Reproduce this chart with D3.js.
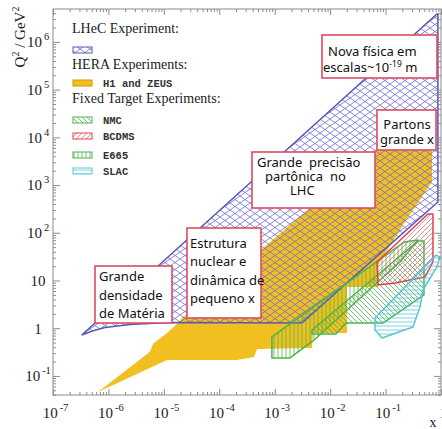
<!DOCTYPE html>
<html><head><meta charset="utf-8">
<script src="https://cdn.jsdelivr.net/npm/d3@7"></script>
<style>
html,body{margin:0;padding:0;background:#fff;}
svg{display:block;}
.note{font-family:"Noto Sans",sans-serif;font-size:13px;fill:#111;white-space:pre;}
.ser{font-family:"Liberation Serif","Times New Roman",serif;fill:#222;}
.mono{font-family:"Liberation Mono",monospace;font-weight:bold;font-size:10.5px;fill:#333;}
</style></head><body>
<script>
// ---------- data (x, Q^2) ----------
const xTickValues = [1e-7, 1e-6, 1e-5, 1e-4, 1e-3, 1e-2, 1e-1, 1];
const xTickBase   = ["10","10","10","10","10","10","10","1"];
const xTickExp    = ["-7","-6","-5","-4","-3","-2","-1",""];
const yTickValues = [1e-1, 1, 10, 1e2, 1e3, 1e4, 1e5, 1e6];
const yTickBase   = ["10","1","10","10","10","10","10","10"];
const yTickExp    = ["-1","","","2","3","4","5","6"];

const lhec = [[3.3e-7,0.72],[0.845,3.85e6],[0.88,3.85e6],[0.88,442],[3.1e-3,1.29],
              [1.29e-5,1.32],[2.45e-6,1.2],[8.7e-7,1.03],[5.1e-7,0.87]];
const h1zeus = [[6.5e-7,0.046],[5.6e-6,0.32],[6.4e-6,0.47],[1.14e-5,0.79],[1.8e-5,1.28],
                [2.12e-5,1.64],[0.070,5430],[0.687,5430],[0.687,1160],[0.224,168],
                [0.073,21.1],[0.073,7.3],[0.0201,7.3],[0.0201,0.79],[4.9e-3,0.79],
                [4.7e-3,0.385],[4.8e-4,0.367],[4.2e-4,0.249],[2.08e-4,0.216],[1.14e-5,0.216]];
const e665 = [[8.9e-4,0.655],[8.9e-4,0.238],[1.88e-3,0.238],[4.9e-3,0.54],[0.182,24.4],
              [0.385,70.6],[0.215,64]];
const nmc = [[4.7e-3,0.916],[4.7e-3,0.757],[0.0127,0.757],[0.0193,1.28],[0.0897,1.28],
             [0.493,4.97],[0.493,67.3],[0.385,67.3]];
const bcdms = [[0.070,24.4],[0.073,8.05],[0.148,8.87],[0.514,11.8],[0.716,24.4],
               [0.716,248],[0.582,248]];
const slac = [[0.0644,1.64],[0.0644,0.916],[0.0861,0.624],[0.312,1.06],[0.418,2.78],
              [0.473,6.32],[0.845,19.2],[0.96,31],[0.81,34]];

const legendHeads = ["LHeC Experiment:","HERA Experiments:","Fixed Target Experiments:"];
const legendNames = ["H1 and ZEUS","NMC","BCDMS","E665","SLAC"];

// ---------- layout ----------
const W=442,H=429, X0=53, X1=441, Y0=395, Y1=9;
const svg=d3.select("body").append("svg").attr("width",W).attr("height",H);
const x=d3.scaleLog().domain([1e-7,1]).range([X0,X1]);
const y=d3.scaleLog().domain([Math.pow(10,-1.4),Math.pow(10,6.69)]).range([Y0,Y1]);

const C={blue:"#5757b8",blueH:"#6b6bd2",yellow:"#f1bf1f",green:"#4cb44c",
         red:"#e0404e",redH:"#e27080",cyan:"#5cc4d8",frame:"#8c8c8c"};

const defs=svg.append("defs");
defs.append("clipPath").attr("id","clip").append("rect")
  .attr("x",X0).attr("y",Y1).attr("width",X1-X0).attr("height",Y0-Y1);
function pat(id,w,h,d,color,sw){
  defs.append("pattern").attr("id",id).attr("patternUnits","userSpaceOnUse")
    .attr("width",w).attr("height",h)
    .append("path").attr("d",d).attr("stroke",color).attr("stroke-width",sw).attr("fill","none");
}
pat("pLHeC",10,7,"M0,0L10,7M0,7L10,0",C.blueH,0.8);
pat("pNMC",5,5,"M0,0L5,5M-1,4L1,6M4,-1L6,1",C.green,0.8);
pat("pBCDMS",5,5,"M0,5L5,0M-1,1L1,-1M4,6L6,4",C.redH,0.8);
pat("pE665",4,4,"M2,0V4",C.green,0.8);
pat("pSLAC",4,4,"M0,2H4",C.cyan,0.8);

const line=d3.line().x(d=>x(d[0])).y(d=>y(d[1])).curve(d3.curveLinearClosed);
const plot=svg.append("g").attr("clip-path","url(#clip)");

plot.append("path").datum(h1zeus).attr("d",line).attr("fill",C.yellow).attr("stroke","none");
plot.append("path").datum(lhec).attr("d",line).attr("fill","url(#pLHeC)")
  .attr("stroke",C.blue).attr("stroke-width",1.5);
[[e665,"pE665",C.green],[nmc,"pNMC",C.green],[bcdms,"pBCDMS",C.red],[slac,"pSLAC",C.cyan]]
 .forEach(([d,p,c])=>{
   plot.append("path").datum(d).attr("d",line).attr("fill",`url(#${p})`)
     .attr("stroke",c).attr("stroke-width",1.5).attr("stroke-linejoin","round");
 });

// ---------- axes ----------
const xMinor=x.ticks().filter(v=>!xTickValues.some(t=>Math.abs(t/v-1)<1e-6));
const yMinor=y.ticks().filter(v=>!yTickValues.some(t=>Math.abs(t/v-1)<1e-6));
function styleAxis(g){g.select(".domain").remove();g.selectAll("line").attr("stroke",C.frame);}

svg.append("g").attr("transform",`translate(0,${Y0})`)
  .call(d3.axisBottom(x).tickValues(xMinor).tickSizeInner(-3).tickSizeOuter(0).tickFormat(""))
  .call(styleAxis);
const xb=svg.append("g").attr("transform",`translate(0,${Y0})`)
  .call(d3.axisBottom(x).tickValues(xTickValues).tickSizeInner(-6).tickSizeOuter(0).tickPadding(12))
  .call(styleAxis);
svg.append("g").attr("transform",`translate(0,${Y1})`)
  .call(d3.axisTop(x).tickValues(xMinor).tickSizeInner(-3).tickSizeOuter(0).tickFormat(""))
  .call(styleAxis);
svg.append("g").attr("transform",`translate(0,${Y1})`)
  .call(d3.axisTop(x).tickValues(xTickValues).tickSizeInner(-6).tickSizeOuter(0).tickFormat(""))
  .call(styleAxis);
svg.append("g").attr("transform",`translate(${X0},0)`)
  .call(d3.axisLeft(y).tickValues(yMinor).tickSizeInner(-3).tickSizeOuter(0).tickFormat(""))
  .call(styleAxis);
const yl=svg.append("g").attr("transform",`translate(${X0},0)`)
  .call(d3.axisLeft(y).tickValues(yTickValues).tickSizeInner(-7).tickSizeOuter(0))
  .call(styleAxis);
svg.append("g").attr("transform",`translate(${X1},0)`)
  .call(d3.axisRight(y).tickValues(yMinor).tickSizeInner(-3).tickSizeOuter(0).tickFormat(""))
  .call(styleAxis);
svg.append("g").attr("transform",`translate(${X1},0)`)
  .call(d3.axisRight(y).tickValues(yTickValues).tickSizeInner(-7).tickSizeOuter(0).tickFormat(""))
  .call(styleAxis);

function supLabels(sel,base,exp){
  sel.selectAll(".tick text").each(function(d,i){
    const t=d3.select(this).text(null).attr("class","ser").attr("font-size",15).attr("fill","#222");
    t.append("tspan").text(base[i]);
    if(exp[i]) t.append("tspan").attr("dx",2).attr("dy",-7).attr("font-size",10.5).text(exp[i]);
  });
}
supLabels(xb,xTickBase,xTickExp);
xb.selectAll(".tick text").attr("text-anchor","middle").attr("dx",2);
supLabels(yl,yTickBase,yTickExp);
yl.selectAll(".tick text").attr("text-anchor","middle").attr("x",-15);

svg.append("rect").attr("x",X0).attr("y",Y1).attr("width",X1-X0).attr("height",Y0-Y1)
  .attr("fill","none").attr("stroke",C.frame).attr("stroke-width",1);

// axis titles
const yt=svg.append("text").attr("class","ser").attr("font-size",15)
  .attr("transform","translate(25,37) rotate(-90)").attr("text-anchor","middle");
yt.append("tspan").text("Q");
yt.append("tspan").attr("dy",-6).attr("font-size",10).text("2");
yt.append("tspan").attr("dy",6).text(" / GeV");
yt.append("tspan").attr("dy",-6).attr("font-size",10).text("2");
svg.append("text").attr("class","ser").attr("font-size",14).attr("x",433).attr("y",427)
  .attr("text-anchor","middle").text("x");

// ---------- legend ----------
const lg=svg.append("g");
[[33,0],[69,1],[103,2]].forEach(([yy,i])=>{
  lg.append("text").attr("class","ser").attr("font-size",14).attr("x",72).attr("y",yy).text(legendHeads[i]);
});
const sw=[[47,"url(#pLHeC)",C.blue,null],[80,C.yellow,"#c99a10",0],[117,"url(#pNMC)",C.green,1],
          [133,"url(#pBCDMS)",C.red,2],[152,"url(#pE665)",C.green,3],[168,"url(#pSLAC)",C.cyan,4]];
sw.forEach(([yy,fill,stroke,ni])=>{
  lg.append("rect").attr("x",73).attr("y",yy).attr("width",19).attr("height",6)
    .attr("fill",fill).attr("stroke",stroke).attr("stroke-width",1);
  if(ni!==null) lg.append("text").attr("class","mono").attr("x",103).attr("y",yy+6.5).text(legendNames[ni]);
});

// ---------- annotation boxes ----------
const notes=[
  {r:[322,35,115,43], lines:[{x:328,y:56,p:[["Nova física em"]]},
                             {x:323,y:72,p:[["escalas~10"],["-19",1],[" m"]]}]},
  {r:[377,110,59,40], anchor:"middle", lines:[{x:407,y:129,p:[["Partons"]]},{x:407,y:144,p:[["grande x"]]}]},
  {r:[252,152,123,56], lines:[{x:257,y:167,p:[["Grande  precisão"]]},{x:265,y:181,p:[["partônica  no"]]},
                              {x:290,y:195,p:[["LHC"]]}]},
  {r:[187,228,74,90], lines:[{x:190,y:248,p:[["Estrutura"]]},{x:190,y:266,p:[["nuclear e"]]},
                             {x:190,y:285,p:[["dinâmica de"]]},{x:190,y:303,p:[["pequeno x"]]}]},
  {r:[95,266,77,57], lines:[{x:99,y:281,p:[["Grande"]]},{x:99,y:300,p:[["densidade"]]},
                            {x:99,y:318,p:[["de Matéria"]]}]}
];
notes.forEach(n=>{
  const g=svg.append("g");
  g.append("rect").attr("x",n.r[0]).attr("y",n.r[1]).attr("width",n.r[2]).attr("height",n.r[3])
    .attr("fill","#fff").attr("stroke","#e04a62").attr("stroke-width",1.6);
  n.lines.forEach(l=>{
    const t=g.append("text").attr("class","note").attr("x",l.x).attr("y",l.y)
      .attr("text-anchor",n.anchor||"start");
    let up=false;
    l.p.forEach(([s,sup])=>{
      const ts=t.append("tspan").text(s);
      if(sup){ts.attr("dy",-5).attr("font-size",8.5);up=true;}
      else if(up){ts.attr("dy",5);up=false;}
    });
  });
});
</script>
</body></html>
